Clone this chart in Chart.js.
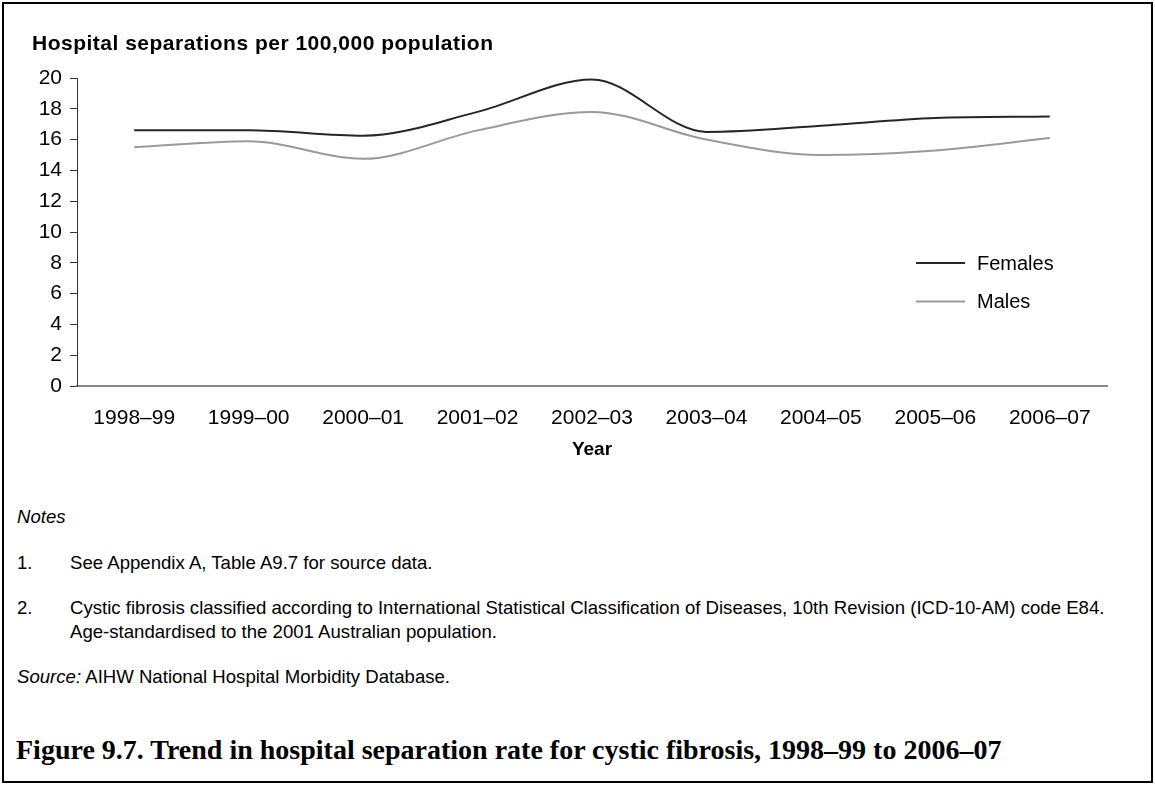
<!DOCTYPE html>
<html lang="en">
<head>
<meta charset="utf-8">
<title>Figure 9.7</title>
<script src="https://cdn.jsdelivr.net/npm/chart.js@4.4.1/dist/chart.umd.min.js"></script>
<style>
    body { margin: 0; background: #fff; font-family: "Liberation Sans", Arial, sans-serif; color: #000; }
    #pagina { position: relative; width: 1155px; height: 785px; overflow: hidden; }
    #marco { position: absolute; left: 2px; top: 2px; width: 1151px; height: 781px; box-sizing: border-box; border: 2px solid #000; pointer-events: none; }
    #grafico { position: absolute; left: 0; top: 0; }
    .texto { position: absolute; font-size: 18.6px; line-height: 20px; white-space: nowrap; }
    #tituloEje { position: absolute; left: 32px; top: 32px; font-size: 21px; line-height: 21px; font-weight: bold; letter-spacing: 0.5px; white-space: nowrap; }
    #pie { position: absolute; left: 16px; top: 735px; font-family: "Palatino Linotype", "Book Antiqua", Palatino, "Liberation Serif", serif; font-weight: bold; font-size: 28px; line-height: 30px; white-space: nowrap; }
</style>
</head>
<body>
<div id="pagina">
    <canvas id="grafico" width="1155" height="470"></canvas>
    <div id="tituloEje">Hospital separations per 100,000 population</div>

    <div class="texto" style="left:17px; top:507px;"><i>Notes</i></div>
    <div class="texto" style="left:17px; top:553px;">1.</div>
    <div class="texto" style="left:70px; top:553px;">See Appendix A, Table A9.7 for source data.</div>
    <div class="texto" style="left:17px; top:598px;">2.</div>
    <div class="texto" style="left:70px; top:598px;">Cystic fibrosis classified according to International Statistical Classification of Diseases, 10th Revision (ICD-10-AM) code E84.</div>
    <div class="texto" style="left:70px; top:622px;">Age-standardised to the 2001 Australian population.</div>
    <div class="texto" style="left:17px; top:667px;"><i>Source:</i> AIHW National Hospital Morbidity Database.</div>

    <div id="pie">Figure 9.7. Trend in hospital separation rate for cystic fibrosis, 1998–99 to 2006–07</div>
    <div id="marco"></div>
</div>

<script>
// Datos
const años = ['1998–99', '1999–00', '2000–01', '2001–02', '2002–03', '2003–04', '2004–05', '2005–06', '2006–07'];
const mujeres = [16.6, 16.6, 16.25, 17.8, 19.9, 16.5, 16.9, 17.4, 17.5];
const hombres = [15.5, 15.9, 14.75, 16.6, 17.8, 16.0, 15.0, 15.3, 16.1];
const ejeY = { min: 0, max: 20, paso: 2 };

const fuenteEjes = { family: '"Liberation Sans", Arial, sans-serif', size: 21 };

// Leyenda dibujada dentro del area del grafico
const leyendaInterna = {
    id: 'leyendaInterna',
    afterDatasetsDraw(chart) {
        const ctx = chart.ctx;
        ctx.save();
        chart.data.datasets.forEach(function(ds, i) {
            const y = 263 + i * 38.5;
            ctx.strokeStyle = ds.borderColor;
            ctx.lineWidth = 2;
            ctx.beginPath();
            ctx.moveTo(916, y);
            ctx.lineTo(965, y);
            ctx.stroke();
            ctx.fillStyle = '#000';
            ctx.font = '20px "Liberation Sans", Arial, sans-serif';
            ctx.textBaseline = 'middle';
            ctx.textAlign = 'left';
            ctx.fillText(ds.label, 977, y + 1);
        });
        ctx.restore();
    }
};

const ctx = document.getElementById('grafico').getContext('2d');
new Chart(ctx, {
    type: 'line',
    data: {
        labels: años,
        datasets: [
            {
                label: 'Females',
                data: mujeres,
                borderColor: '#262626',
                borderWidth: 2,
                pointRadius: 0,
                cubicInterpolationMode: 'monotone'
            },
            {
                label: 'Males',
                data: hombres,
                borderColor: '#9a9a9a',
                borderWidth: 2,
                pointRadius: 0,
                cubicInterpolationMode: 'monotone'
            }
        ]
    },
    options: {
        responsive: false,
        animation: false,
        layout: { padding: { top: 78, left: 0, right: 48, bottom: 5 } },
        plugins: {
            legend: { display: false },
            tooltip: { enabled: false }
        },
        scales: {
            x: {
                offset: true,
                afterFit: function(scale) { scale.height = 79; },
                grid: { drawOnChartArea: false, drawTicks: false },
                border: { display: true, color: '#878787', width: 2 },
                ticks: { color: '#000', font: fuenteEjes, padding: 20, maxRotation: 0, autoSkip: false },
                title: {
                    display: true,
                    text: 'Year',
                    color: '#000',
                    font: { family: '"Liberation Sans", Arial, sans-serif', size: 19, weight: 'bold' },
                    padding: { top: 4, bottom: 4 }
                }
            },
            y: {
                min: ejeY.min,
                max: ejeY.max,
                afterFit: function(scale) { scale.width = 77; },
                grid: { drawOnChartArea: false, drawTicks: true, tickLength: 7, color: '#333' },
                border: { display: true, color: '#333', width: 1 },
                ticks: { stepSize: ejeY.paso, color: '#000', font: fuenteEjes, padding: 8 }
            }
        }
    },
    plugins: [leyendaInterna]
});
</script>
</body>
</html>
